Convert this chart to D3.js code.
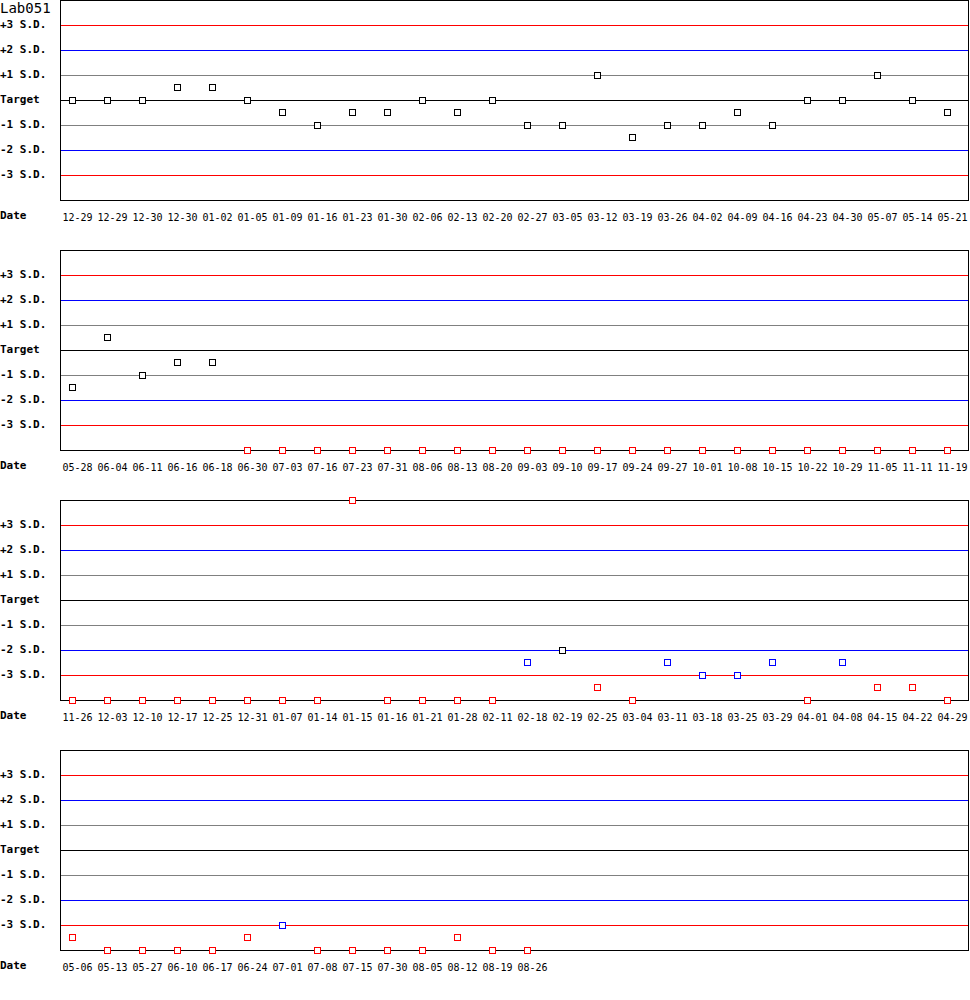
<!DOCTYPE html>
<html>
<head>
<meta charset="utf-8">
<script src="https://cdn.jsdelivr.net/npm/d3@7"></script>
<style>
  body { margin: 0; background: #fff; }
  svg { display: block; }
</style>
</head>
<body>
<div id="chart"></div>
<script>
// Levey-Jennings chart, Lab051 — values in S.D. units from target
const title = "Lab051";

const levels = [3, 2, 1, 0, -1, -2, -3];
const levelLabels = ["+3 S.D.", "+2 S.D.", "+1 S.D.", "Target", "-1 S.D.", "-2 S.D.", "-3 S.D."];

const dates1 = ["12-29","12-29","12-30","12-30","01-02","01-05","01-09","01-16","01-23","01-30","02-06","02-13","02-20",
                "02-27","03-05","03-12","03-19","03-26","04-02","04-09","04-16","04-23","04-30","05-07","05-14","05-21"];
const values1 = [0, 0, 0, 0.5, 0.5, 0, -0.5, -1, -0.5, -0.5, 0, -0.5, 0,
                 -1, -1, 1, -1.5, -1, -1, -0.5, -1, 0, 0, 1, 0, -0.5];

const dates2 = ["05-28","06-04","06-11","06-16","06-18","06-30","07-03","07-16","07-23","07-31","08-06","08-13","08-20",
                "09-03","09-10","09-17","09-24","09-27","10-01","10-08","10-15","10-22","10-29","11-05","11-11","11-19"];
const values2 = [-1.5, 0.5, -1, -0.5, -0.5, -4, -4, -4, -4, -4, -4, -4, -4,
                 -4, -4, -4, -4, -4, -4, -4, -4, -4, -4, -4, -4, -4];

const dates3 = ["11-26","12-03","12-10","12-17","12-25","12-31","01-07","01-14","01-15","01-16","01-21","01-28","02-11",
                "02-18","02-19","02-25","03-04","03-11","03-18","03-25","03-29","04-01","04-08","04-15","04-22","04-29"];
const values3 = [-4, -4, -4, -4, -4, -4, -4, -4, 4, -4, -4, -4, -4,
                 -2.5, -2, -3.5, -4, -2.5, -3, -3, -2.5, -4, -2.5, -3.5, -3.5, -4];

const dates4 = ["05-06","05-13","05-27","06-10","06-17","06-24","07-01","07-08","07-15","07-30","08-05","08-12","08-19","08-26"];
const values4 = [-3.5, -4, -4, -4, -4, -3.5, -3, -4, -4, -4, -4, -3.5, -4, -4];

const panels = [
  {dates: dates1, values: values1},
  {dates: dates2, values: values2},
  {dates: dates3, values: values3},
  {dates: dates4, values: values4}
];

const width = 970, height = 1000;
const panelStep = 250, plotH = 200;
const left = 60, right = 968;
const mono = "'DejaVu Sans Mono', 'Liberation Mono', monospace";

const svg = d3.select("#chart").append("svg")
  .attr("width", width).attr("height", height)
  .attr("viewBox", `0 0 ${width} ${height}`);

const x = d3.scaleLinear().domain([0, 25]).range([72, 947]);
const y = d3.scaleLinear().domain([4, -4]).range([0, plotH]);

// snap to whole pixels the way the original bitmap was drawn
const px = v => Math.round(v);
const py = v => Math.floor(v + 1e-6);

const lineColor = v => Math.abs(v) === 3 ? "#ff0000" : Math.abs(v) === 2 ? "#0000ff" : v === 0 ? "#000000" : "#808080";
const pointColor = v => Math.abs(v) > 3 ? "#ff0000" : Math.abs(v) > 2 ? "#0000ff" : "#000000";

panels.forEach((p, k) => {
  const g = svg.append("g").attr("transform", `translate(0,${k * panelStep})`);

  // grid lines
  g.selectAll("line.grid")
    .data(levels)
    .join("line")
      .attr("class", "grid")
      .attr("x1", left).attr("x2", right)
      .attr("y1", d => py(y(d)) + 0.5).attr("y2", d => py(y(d)) + 0.5)
      .attr("stroke", d => lineColor(d))
      .attr("stroke-width", 1)
      .attr("shape-rendering", "crispEdges");

  // frame
  g.append("rect")
    .attr("x", left + 0.5).attr("y", py(y(4)) + 0.5)
    .attr("width", right - left).attr("height", plotH)
    .attr("fill", "none").attr("stroke", "#000").attr("stroke-width", 1)
    .attr("shape-rendering", "crispEdges");

  // level labels
  g.selectAll("text.lvl")
    .data(levels)
    .join("text")
      .attr("class", "lvl")
      .attr("x", 0).attr("y", d => py(y(d)) + 3)
      .style("font-family", mono).style("font-size", "11px").style("font-weight", "bold")
      .text((d, i) => levelLabels[i]);

  g.append("text")
    .attr("x", 0).attr("y", plotH + 19)
    .style("font-family", mono).style("font-size", "11px").style("font-weight", "bold")
    .text("Date");

  // date labels
  g.selectAll("text.date")
    .data(p.dates)
    .join("text")
      .attr("class", "date")
      .attr("x", (d, i) => px(x(i)) - 9.5).attr("y", plotH + 21)
      .style("font-family", mono).style("font-size", "10px")
      .text(d => d);

  // points
  g.selectAll("rect.pt")
    .data(p.values)
    .join("rect")
      .attr("class", "pt")
      .attr("x", (d, i) => px(x(i)) - 2.5).attr("y", d => py(y(d)) - 2.5)
      .attr("width", 6).attr("height", 6)
      .attr("fill", "#fff")
      .attr("stroke", d => pointColor(d)).attr("stroke-width", 1)
      .attr("shape-rendering", "crispEdges");
});

svg.append("text")
  .attr("x", 0).attr("y", 13)
  .style("font-family", mono).style("font-size", "14px")
  .text(title);
</script>
</body>
</html>
